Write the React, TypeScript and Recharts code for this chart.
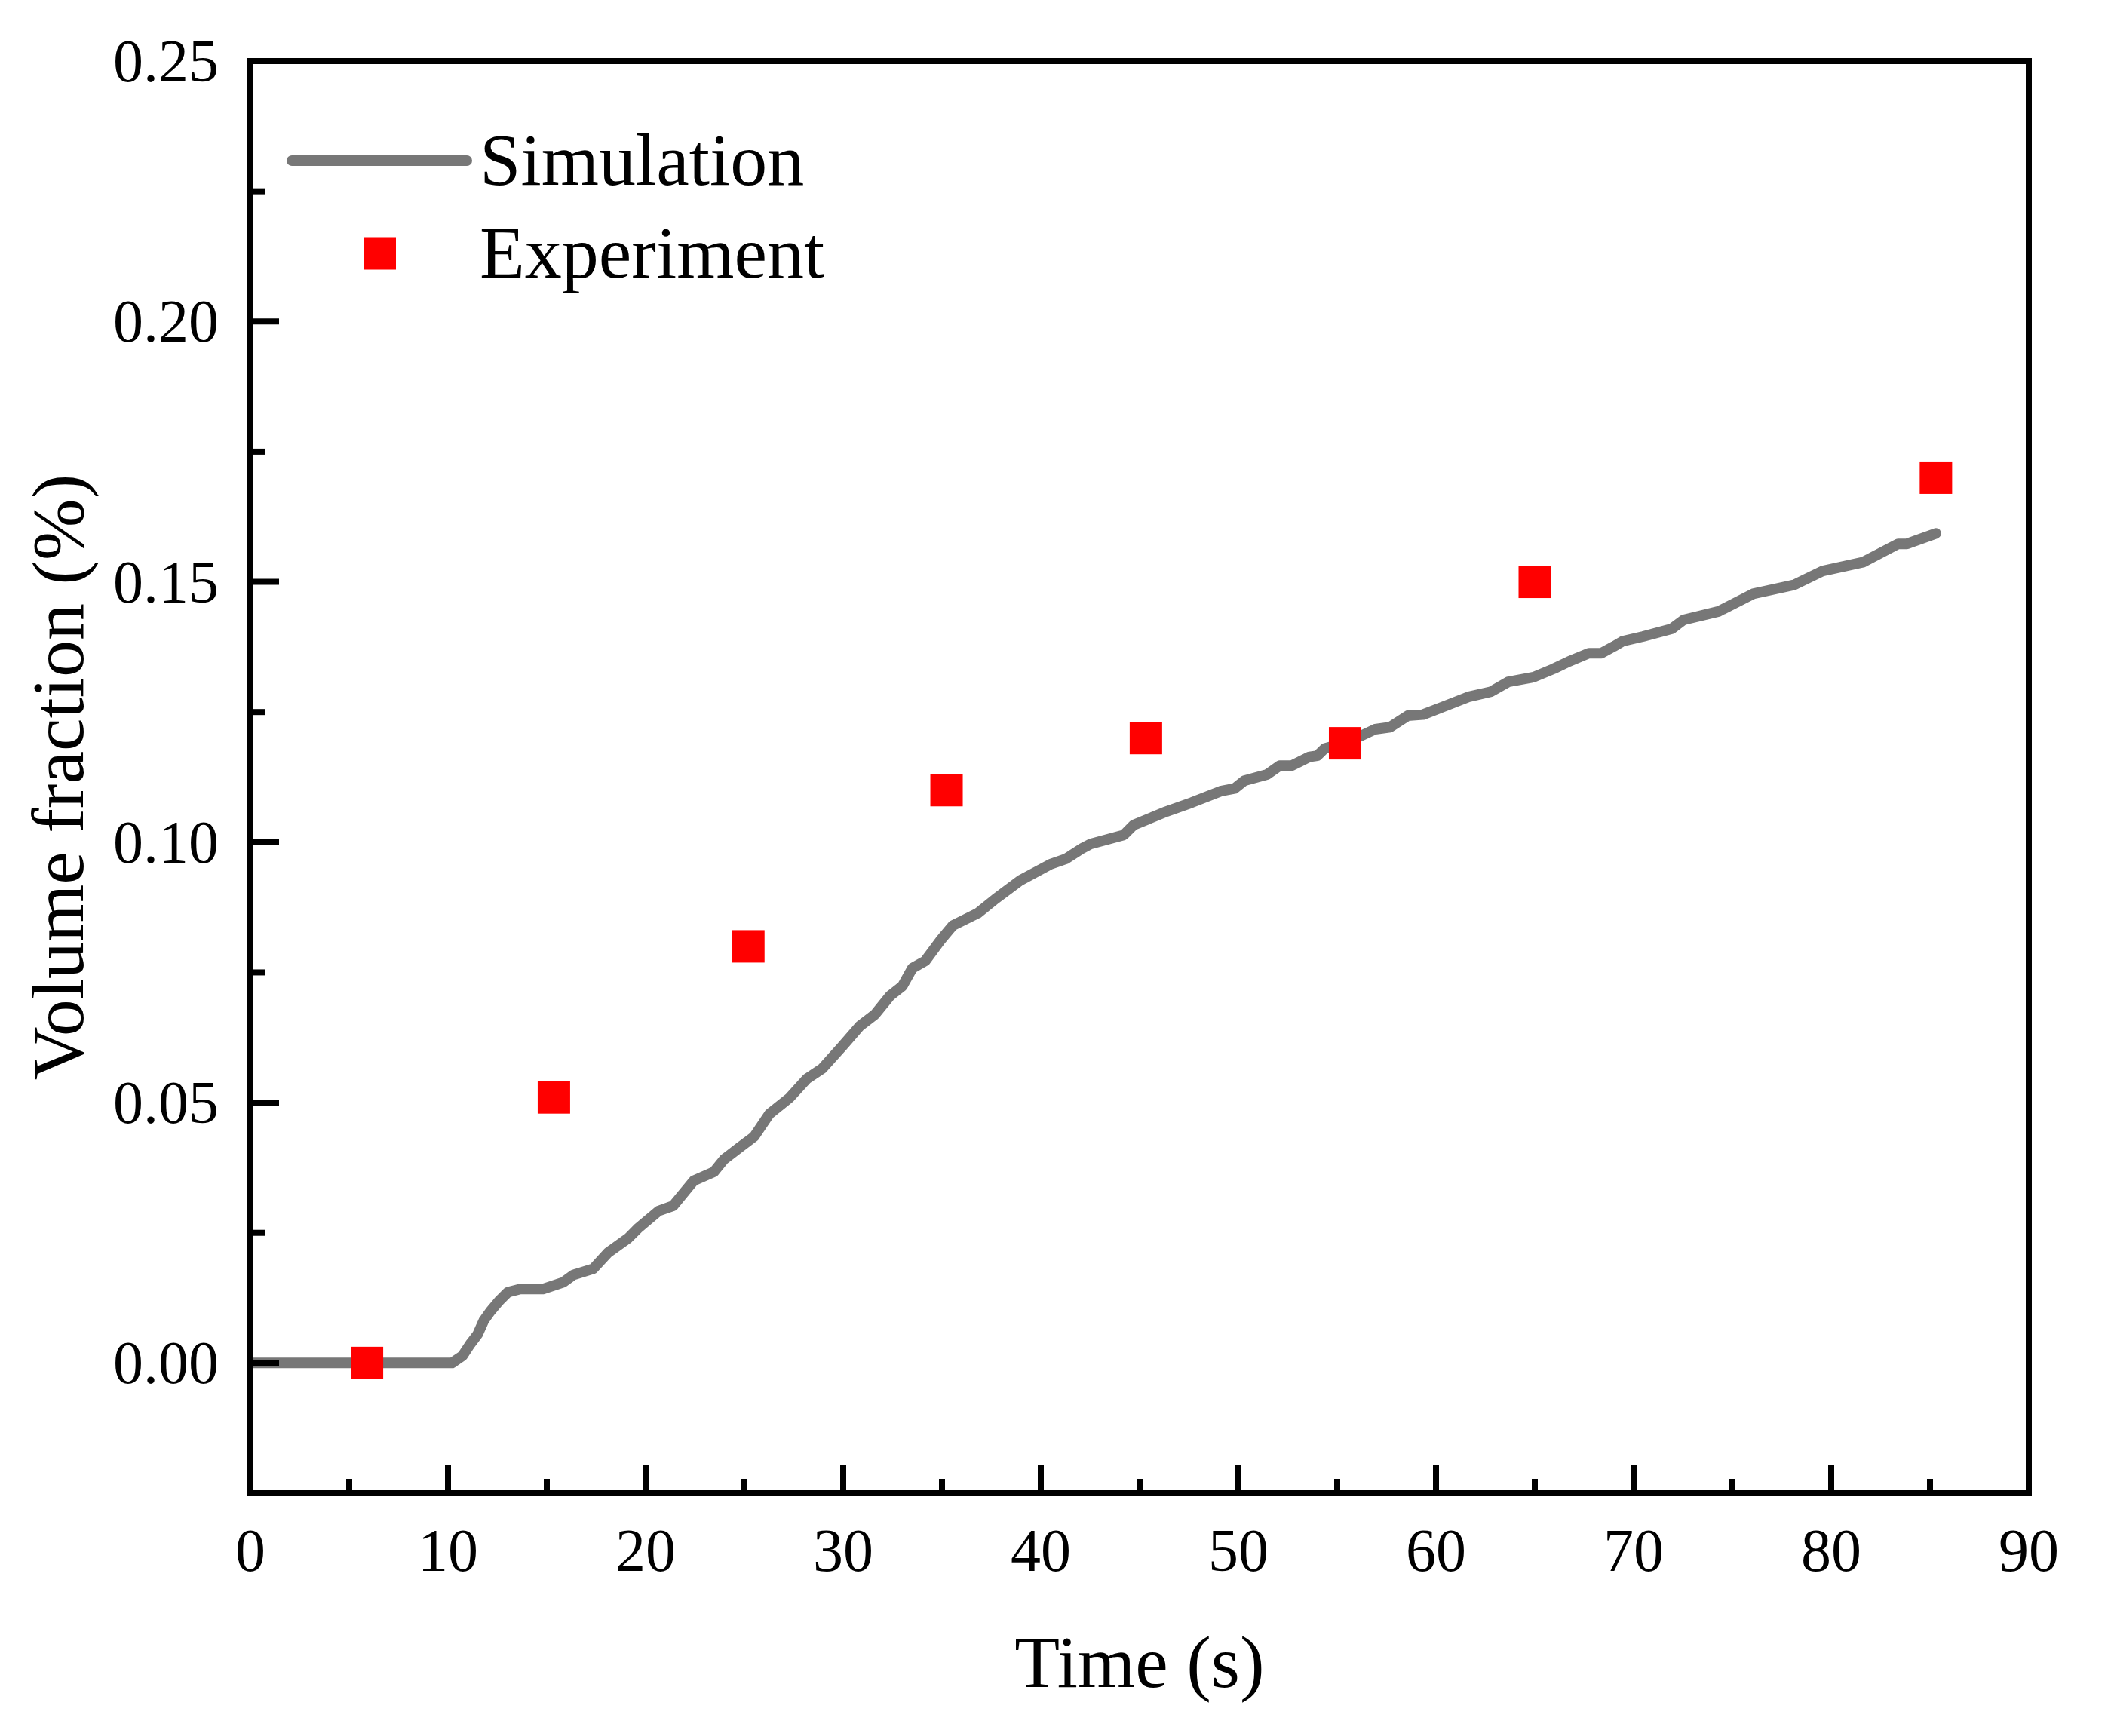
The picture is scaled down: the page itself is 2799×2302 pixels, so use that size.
import { ComposedChart, Label, Legend, Line, Scatter, XAxis, YAxis } from "recharts"

// simulation curve
const simTime = [
  0, 10.2, 10.74, 11.12, 11.5, 11.82, 12.14, 12.58, 13.03, 13.66,
  14.8, 15.83, 16.34, 17.35, 18.1, 19.1, 19.6, 20.66, 21.4, 22.44,
  23.46, 23.97, 24.73, 25.5, 26.26, 27.28, 28.17, 28.93, 29.95, 30.84,
  31.6, 32.37, 33.0, 33.5, 34.15, 34.91, 35.55, 36.82, 37.7, 38.98,
  40.5, 41.27, 42.04, 42.54, 44.2, 44.7, 46.36, 47.63, 49.1, 49.8,
  50.3, 51.45, 52.09, 52.7, 53.6, 53.99, 54.37, 55.52, 56.92, 57.68,
  58.57, 59.34, 60.36, 61.63, 62.78, 63.66, 64.94, 65.95, 66.72, 67.74,
  68.37, 69.0, 69.45, 70.48, 71.94, 72.53, 74.29, 76.05, 78.11, 79.58,
  81.63, 83.39, 83.84, 85.3,
]

const simFraction = [
  0, 0, 0.0014, 0.0036, 0.0055, 0.0082, 0.0099, 0.0119, 0.0136, 0.0142,
  0.0142, 0.0155, 0.0169, 0.0181, 0.0212, 0.0239, 0.0258, 0.0292, 0.0302, 0.035,
  0.0367, 0.0391, 0.0413, 0.0435, 0.0478, 0.0509, 0.0546, 0.0565, 0.0608, 0.0647,
  0.0669, 0.0705, 0.0724, 0.0758, 0.0772, 0.0811, 0.084, 0.0864, 0.0891, 0.0927,
  0.0958, 0.0968, 0.0987, 0.0997, 0.1014, 0.1033, 0.1059, 0.1076, 0.1098, 0.1103,
  0.1118, 0.113, 0.1147, 0.1147, 0.1164, 0.1166, 0.118, 0.1192, 0.1217, 0.1221,
  0.1243, 0.1245, 0.126, 0.1279, 0.1289, 0.1308, 0.1317, 0.1333, 0.1347, 0.1363,
  0.1363, 0.1376, 0.1386, 0.1395, 0.141, 0.1427, 0.1443, 0.1477, 0.1494, 0.1521,
  0.1538, 0.1573, 0.1573, 0.1593,
]

const expTime = [5.9, 15.36, 25.2, 35.23, 45.32, 55.4, 65.0, 85.3]
const expFraction = [0, 0.051, 0.08, 0.11, 0.12, 0.119, 0.15, 0.17]

const xTicks = [0, 5, 10, 15, 20, 25, 30, 35, 40, 45, 50, 55, 60, 65, 70, 75, 80, 85, 90]
const yTicks = [-0.025, 0, 0.025, 0.05, 0.075, 0.1, 0.125, 0.15, 0.175, 0.2, 0.225, 0.25]
const legendOrder = ["Simulation", "Experiment"]

const simData = simTime.map((t, i) => ({ t, v: simFraction[i] }))
const expData = expTime.map((t, i) => ({ t, v: expFraction[i] }))

const FONT = "'Liberation Serif', 'Times New Roman', serif"
const GRAY = "#777777"
const RED = "#ff0000"
const AXIS_LINE = { stroke: "#000", strokeWidth: 8, strokeLinecap: "square" as const }

function BottomTick(props: any) {
  const { x, y, payload } = props
  const value = payload.value as number
  const major = value % 10 === 0
  return (
    <g>
      <line x1={x} x2={x} y1={y} y2={y - (major ? 38 : 19)} stroke="#000" strokeWidth={8} />
      {major ? (
        <text x={x} y={y + 103} textAnchor="middle" fontFamily={FONT} fontSize={80} fill="#000">
          {value}
        </text>
      ) : null}
    </g>
  )
}

function LeftTick(props: any) {
  const { x, y, payload } = props
  const value = payload.value as number
  const major = Math.round(value * 1000) % 50 === 0
  return (
    <g>
      <line x1={x} x2={x + (major ? 38 : 19)} y1={y} y2={y} stroke="#000" strokeWidth={8} />
      {major ? (
        <text x={x - 42} y={y + 27} textAnchor="end" fontFamily={FONT} fontSize={80} fill="#000">
          {value.toFixed(2)}
        </text>
      ) : null}
    </g>
  )
}

function TimeTitle(props: any) {
  const vb = props.viewBox
  return (
    <text x={vb.x + vb.width / 2} y={vb.y + 257} textAnchor="middle" fontFamily={FONT} fontSize={98} fill="#000">
      Time (s)
    </text>
  )
}

function FractionTitle(props: any) {
  const vb = props.viewBox
  const x = vb.x + vb.width - 222
  const y = vb.y + vb.height / 2
  return (
    <text
      x={x}
      y={y}
      transform={`rotate(-90, ${x}, ${y})`}
      textAnchor="middle"
      fontFamily={FONT}
      fontSize={98}
      fill="#000"
    >
      Volume fraction (%)
    </text>
  )
}

function SquareMarker(props: any) {
  const { cx, cy } = props
  return <rect x={cx - 21.5} y={cy - 21.5} width={43} height={43} fill={RED} />
}

function LegendBox(props: any) {
  const items = [...(props.payload ?? [])].sort(
    (a: any, b: any) => legendOrder.indexOf(a.value) - legendOrder.indexOf(b.value)
  )
  return (
    <svg width={1200} height={420}>
      {items.map((item: any, i: number) => {
        const cy = 213 + i * 123
        return (
          <g key={item.value}>
            {item.type === "line" ? (
              <line x1={387} x2={619} y1={cy} y2={cy} stroke={GRAY} strokeWidth={14} strokeLinecap="round" />
            ) : (
              <rect x={482} y={cy - 21.5} width={43} height={43} fill={RED} />
            )}
            <text x={636} y={cy + 32} fontFamily={FONT} fontSize={98} fill="#000">
              {item.value}
            </text>
          </g>
        )
      })}
    </svg>
  )
}

export default function App() {
  return (
    <div style={{ background: "#fff" }}>
      <style>{"body{margin:0;background:#fff}"}</style>
      <ComposedChart width={2799} height={2302} margin={{ top: 80, right: 108, bottom: 321, left: 331 }}>
        <XAxis
          dataKey="t"
          type="number"
          domain={[0, 90]}
          ticks={xTicks}
          interval={0}
          height={1}
          tickSize={0}
          tickMargin={0}
          tickLine={false}
          tick={BottomTick}
          axisLine={AXIS_LINE}
          allowDataOverflow
          label={<Label content={TimeTitle} />}
        />
        <XAxis xAxisId="top" orientation="top" type="number" domain={[0, 90]} height={1} tick={false} tickLine={false} axisLine={AXIS_LINE} />
        <YAxis
          type="number"
          domain={[-0.025, 0.25]}
          ticks={yTicks}
          interval={0}
          width={1}
          tickSize={0}
          tickMargin={0}
          tickLine={false}
          tick={LeftTick}
          axisLine={AXIS_LINE}
          allowDataOverflow
          label={<Label content={FractionTitle} />}
        />
        <YAxis yAxisId="right" orientation="right" type="number" domain={[-0.025, 0.25]} width={1} tick={false} tickLine={false} axisLine={AXIS_LINE} />
        <Legend
          layout="vertical"
          align="center"
          verticalAlign="middle"
          content={LegendBox}
          wrapperStyle={{ left: 0, top: 0, width: 1200, height: 420 }}
        />
        <Line
          data={simData}
          dataKey="v"
          name="Simulation"
          type="linear"
          stroke={GRAY}
          strokeWidth={14}
          strokeLinecap="round"
          strokeLinejoin="round"
          dot={false}
          activeDot={false}
          legendType="line"
          isAnimationActive={false}
        />
        <Scatter
          data={expData}
          dataKey="v"
          name="Experiment"
          shape={SquareMarker}
          legendType="square"
          isAnimationActive={false}
        />
      </ComposedChart>
    </div>
  )
}
